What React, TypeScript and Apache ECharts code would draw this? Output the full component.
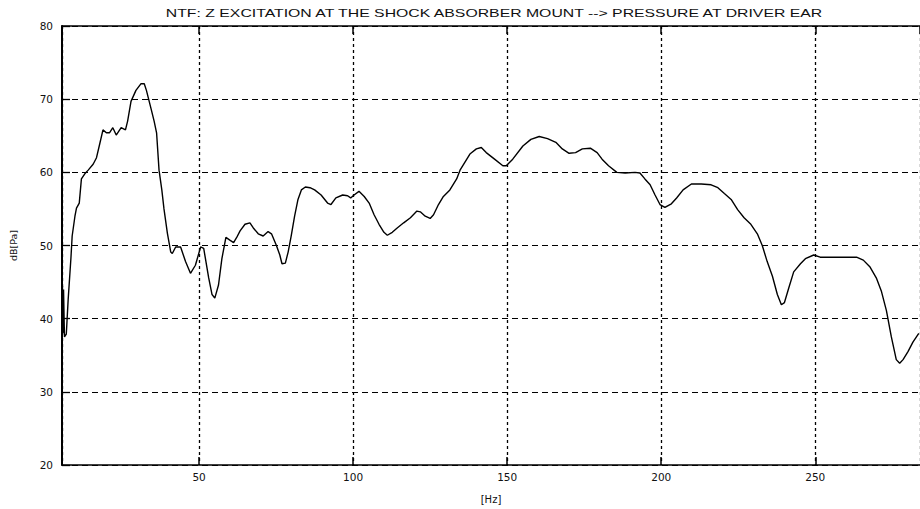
import React, { useEffect, useRef } from "react";
import * as echarts from "echarts";

const chartTitle = "NTF: Z EXCITATION AT THE SHOCK ABSORBER MOUNT --> PRESSURE AT DRIVER EAR";
const xAxisName = "[Hz]";
const yAxisName = "dB[Pa]";
const xTickLabels = [50, 100, 150, 200, 250];

const freqHz = [
  5.65, 5.8, 6.0, 6.3, 6.9, 7.5, 8.4, 8.8, 9.7, 10.2, 11.1, 11.8, 12.9, 14.0, 15.6, 16.7, 17.7, 18.8, 19.9,
  20.9, 22.0, 23.1, 24.7, 26.1, 26.8, 27.9, 29.5, 31.1, 32.2, 32.9, 34.4, 35.4, 36.2, 37.0, 37.9, 38.6,
  39.7, 40.8, 41.3, 42.4, 44.0, 45.6, 47.2, 48.8, 50.5, 51.5, 53.1, 54.2, 55.1, 56.3, 57.4, 58.7, 60.1,
  61.2, 62.2, 63.3, 64.9, 66.5, 67.6, 69.2, 70.8, 72.4, 73.5, 75.1, 76.2, 76.9, 78.0, 78.9, 79.9, 81.0,
  82.1, 83.2, 84.5, 86.0, 87.5, 89.6, 91.7, 92.8, 94.4, 96.6, 98.2, 99.2, 100.3, 101.9, 103.6, 105.2,
  106.8, 108.4, 110.0, 111.1, 112.7, 114.3, 116.4, 118.6, 120.7, 121.8, 123.4, 125.0, 126.1, 127.7,
  129.3, 131.4, 133.6, 134.7, 136.3, 137.9, 140.0, 141.6, 143.2, 145.9, 148.6, 149.7, 151.8, 155.1,
  157.7, 160.4, 163.1, 165.8, 167.9, 170.1, 172.2, 174.4, 177.0, 179.2, 180.8, 182.9, 185.6, 188.3,
  191.5, 193.1, 194.7, 196.4, 198.0, 199.6, 201.2, 203.3, 205.0, 207.1, 209.8, 213.0, 216.2, 218.4,
  220.5, 222.7, 224.8, 226.9, 229.1, 231.2, 232.8, 234.4, 236.1, 237.7, 239.0, 240.0, 241.4, 243.0,
  245.2, 246.8, 249.5, 251.6, 258.1, 263.4, 265.6, 267.7, 269.9, 271.5, 273.1, 274.7, 276.3, 277.4,
  278.5, 280.1, 281.7, 283.6
];

const levelDb = [
  44.5, 38.0, 44.0, 37.5, 37.9, 42.6, 48.3, 51.3, 54.0, 55.1, 55.8, 59.1, 59.8, 60.3, 61.1, 62.0, 63.8, 65.8, 65.4,
  65.4, 66.1, 65.1, 66.1, 65.8, 67.0, 69.7, 71.2, 72.1, 72.1, 71.2, 68.7, 67.0, 65.4, 60.3, 57.6, 55.0,
  51.7, 49.1, 48.9, 49.8, 49.8, 47.8, 46.2, 47.3, 49.8, 49.6, 45.6, 43.3, 42.8, 44.6, 48.2, 51.1, 50.7,
  50.4, 51.1, 52.0, 52.9, 53.1, 52.4, 51.6, 51.3, 51.9, 51.6, 50.0, 48.7, 47.5, 47.6, 49.1, 51.3, 54.0,
  56.3, 57.6, 58.0, 57.9, 57.6, 56.9, 55.8, 55.6, 56.5, 56.9, 56.8, 56.5, 56.9, 57.4, 56.7, 55.8,
  54.2, 52.9, 51.8, 51.4, 51.8, 52.4, 53.1, 53.8, 54.7, 54.6, 54.0, 53.7, 54.2, 55.6,
  56.7, 57.6, 59.1, 60.3, 61.4, 62.5, 63.2, 63.4, 62.7, 61.8, 60.9, 60.9, 61.8, 63.6,
  64.5, 64.9, 64.6, 64.1, 63.2, 62.6, 62.7, 63.2, 63.3, 62.7, 61.8, 60.9, 60.0, 59.9,
  60.0, 59.9, 59.1, 58.3, 56.9, 55.6, 55.2, 55.7, 56.5, 57.6, 58.4, 58.4, 58.3, 57.9,
  57.1, 56.3, 54.9, 53.8, 52.9, 51.6, 50.0, 47.8, 45.8, 43.3, 41.9, 42.2, 44.2, 46.4,
  47.5, 48.2, 48.7, 48.4, 48.4, 48.4, 48.0, 47.1, 45.5, 43.7, 41.1, 37.5, 34.4, 33.9,
  34.4, 35.5, 36.8, 38.0
];

const FONT = '"DejaVu Sans", "Liberation Sans", sans-serif';
const INK = "#111";

export default function App() {
  const ref = useRef<HTMLDivElement>(null);

  useEffect(() => {
    if (!ref.current) return;
    const chart = echarts.init(ref.current, null, { renderer: "svg" });
    const points = freqHz.map((f, i) => [f, levelDb[i]]);
    const xMin = 5.5;
    const xMax = 284;

    chart.setOption({
      animation: false,
      backgroundColor: "#ffffff",
      graphic: [
        {
          type: "text",
          x: 494,
          y: 14,
          scaleX: 1.58,
          style: {
            text: chartTitle,
            font: '10px "Liberation Sans", Arial, sans-serif',
            fill: INK,
            align: "center",
            verticalAlign: "middle",
          },
        },
      ],
      grid: { left: 62, right: -7, top: 26, bottom: 35, show: false },
      xAxis: [
        {
          type: "value",
          min: xMin,
          max: xMax,
          position: "bottom",
          name: xAxisName,
          nameLocation: "middle",
          nameGap: 29,
          nameTextStyle: { fontFamily: FONT, fontSize: 10, color: INK },
          axisLine: { show: true, onZero: false, lineStyle: { color: "#000", width: 1.5 } },
          axisTick: { show: true, inside: true, length: 8, lineStyle: { color: "#000", width: 1.5 } },
          axisLabel: {
            show: true,
            margin: 6,
            fontFamily: FONT,
            fontSize: 10.5,
            color: INK,
            showMinLabel: false,
            showMaxLabel: false,
            formatter: (v: number) => (xTickLabels.indexOf(v) >= 0 ? String(v) : ""),
          },
          splitLine: { show: true, lineStyle: { color: "#000", width: 1.3, type: [3, 3] } },
        },
        {
          type: "value",
          min: xMin,
          max: xMax,
          position: "top",
          axisLine: { show: true, onZero: false, lineStyle: { color: "#000", width: 1.5 } },
          axisTick: { show: true, inside: true, length: 8, lineStyle: { color: "#000", width: 1.5 } },
          axisLabel: { show: false },
          splitLine: { show: false },
        },
      ],
      yAxis: {
        type: "value",
        min: 20,
        max: 80,
        interval: 10,
        name: yAxisName,
        nameLocation: "middle",
        nameGap: 44,
        nameRotate: 90,
        nameTextStyle: { fontFamily: FONT, fontSize: 9.5, color: INK },
        axisLine: { show: true, onZero: false, lineStyle: { color: "#000", width: 2 } },
        axisTick: { show: true, inside: true, length: 8, lineStyle: { color: "#000", width: 1.3 } },
        axisLabel: { margin: 9, fontFamily: FONT, fontSize: 10.5, color: INK },
        splitLine: { show: true, lineStyle: { color: "#000", width: 1, type: [6, 4] } },
      },
      series: [
        {
          type: "line",
          xAxisIndex: 0,
          data: points,
          showSymbol: false,
          symbol: "none",
          smooth: false,
          lineStyle: { color: "#000", width: 1.4 },
        },
      ],
    });

    return () => chart.dispose();
  }, []);

  return (
    <div
      ref={ref}
      style={{ position: "fixed", left: 0, top: 0, width: 920, height: 509, background: "#fff" }}
    />
  );
}
